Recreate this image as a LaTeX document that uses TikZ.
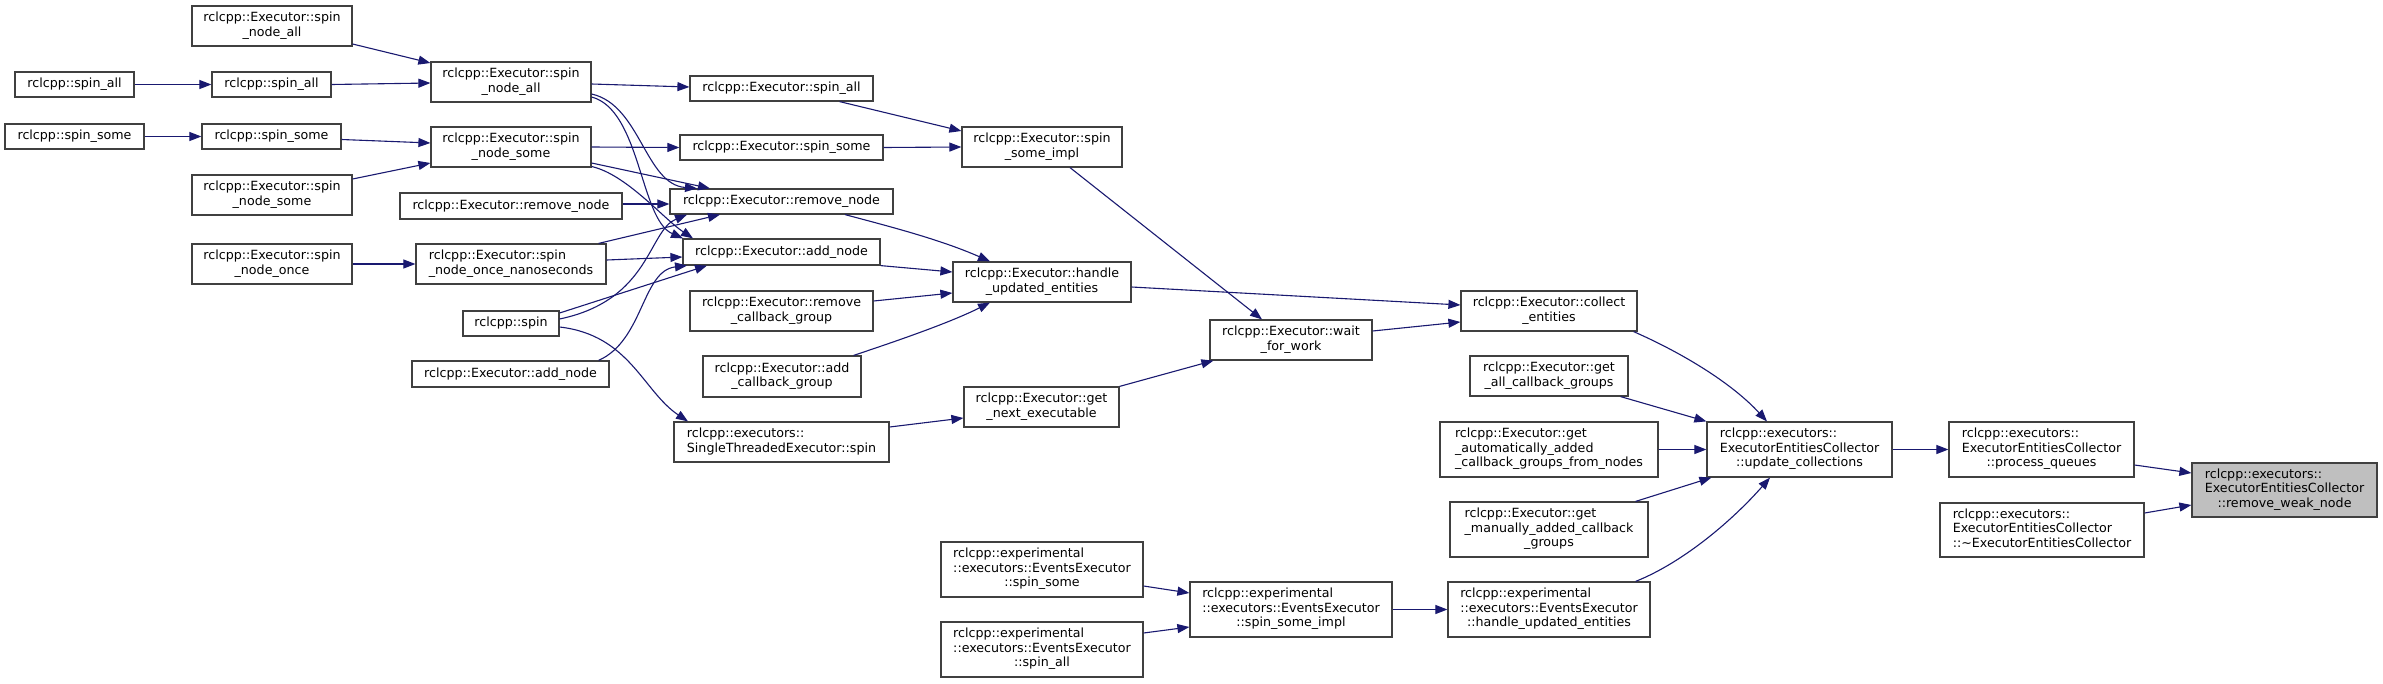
\documentclass[tikz,border=0pt]{standalone}
\usepackage{fontspec}
\setmainfont{DejaVu Sans}
\usetikzlibrary{arrows.meta,calc}
\definecolor{edgeblue}{HTML}{191970}
\definecolor{boxline}{HTML}{404040}
\definecolor{hlgray}{HTML}{BFBFBF}
\newcommand{\twoline}[2]{\begin{tabular}{@{}l@{}}#1\\\multicolumn{1}{@{}c@{}}{#2}\end{tabular}}
\newcommand{\threeline}[3]{\begin{tabular}{@{}l@{}}#1\\#2\\\multicolumn{1}{@{}c@{}}{#3}\end{tabular}}
\tikzset{
  nbox/.style={draw=boxline, line width=1.2pt, fill=white, inner sep=0pt, text=black,
    font=\fontsize{12.65}{14.4}\selectfont},
  curbox/.style={nbox, fill=hlgray},
  conn/.style={draw=edgeblue, line width=1.1pt, -{Triangle[length=12pt,width=9pt]}},
}
\begin{document}
\begin{tikzpicture}[x=1pt,y=-1pt]
\fill[white] (0,0) rectangle (2383,683);
\useasboundingbox (0,0) rectangle (2383,683);
% column 0
\node[nbox, minimum width=119, minimum height=25] (sa0) at (74.5,84.5) {rclcpp::spin\_all};
\node[nbox, minimum width=139, minimum height=25] (ss0) at (74.5,136.5) {rclcpp::spin\_some};
% column 1
\node[nbox, minimum width=160, minimum height=40] (sna1) at (272,26) {\twoline{rclcpp::Executor::spin}{\_node\_all}};
\node[nbox, minimum width=119, minimum height=25] (sa1) at (271.5,84.5) {rclcpp::spin\_all};
\node[nbox, minimum width=139, minimum height=25] (ss1) at (271.5,136.5) {rclcpp::spin\_some};
\node[nbox, minimum width=160, minimum height=40] (sns1) at (272,195) {\twoline{rclcpp::Executor::spin}{\_node\_some}};
\node[nbox, minimum width=160, minimum height=40] (sno) at (272,264) {\twoline{rclcpp::Executor::spin}{\_node\_once}};
% column 2
\node[nbox, minimum width=160, minimum height=40] (sna2) at (511,82) {\twoline{rclcpp::Executor::spin}{\_node\_all}};
\node[nbox, minimum width=160, minimum height=40] (sns2) at (511,147) {\twoline{rclcpp::Executor::spin}{\_node\_some}};
\node[nbox, minimum width=222, minimum height=26] (rn2) at (511,206) {rclcpp::Executor::remove\_node};
\node[nbox, minimum width=190, minimum height=40] (snon) at (511,264) {\twoline{rclcpp::Executor::spin}{\_node\_once\_nanoseconds}};
\node[nbox, minimum width=96, minimum height=25] (spin) at (511,323.5) {rclcpp::spin};
\node[nbox, minimum width=197, minimum height=26] (an2) at (510.5,374) {rclcpp::Executor::add\_node};
% column 3
\node[nbox, minimum width=183, minimum height=25] (esa) at (781.5,88.5) {rclcpp::Executor::spin\_all};
\node[nbox, minimum width=203, minimum height=25] (ess) at (781.5,147.5) {rclcpp::Executor::spin\_some};
\node[nbox, minimum width=223, minimum height=25] (rn3) at (781.5,201.5) {rclcpp::Executor::remove\_node};
\node[nbox, minimum width=197, minimum height=26] (an3) at (781.5,252) {rclcpp::Executor::add\_node};
\node[nbox, minimum width=183, minimum height=40] (rcg) at (781.5,311) {\twoline{rclcpp::Executor::remove}{\_callback\_group}};
\node[nbox, minimum width=158, minimum height=41] (acg) at (782,376.5) {\twoline{rclcpp::Executor::add}{\_callback\_group}};
\node[nbox, minimum width=215, minimum height=40] (ste) at (781.5,442) {\twoline{rclcpp::executors::}{SingleThreadedExecutor::spin}};
% column 4
\node[nbox, minimum width=160, minimum height=40] (ssi) at (1042,147) {\twoline{rclcpp::Executor::spin}{\_some\_impl}};
\node[nbox, minimum width=178, minimum height=40] (hue) at (1042,282) {\twoline{rclcpp::Executor::handle}{\_updated\_entities}};
\node[nbox, minimum width=155, minimum height=40] (gne) at (1041.5,407) {\twoline{rclcpp::Executor::get}{\_next\_executable}};
\node[nbox, minimum width=202, minimum height=55] (ees) at (1042,569.5) {\threeline{rclcpp::experimental}{::executors::EventsExecutor}{::spin\_some}};
\node[nbox, minimum width=202, minimum height=55] (eea) at (1042,649.5) {\threeline{rclcpp::experimental}{::executors::EventsExecutor}{::spin\_all}};
% column 5
\node[nbox, minimum width=162, minimum height=40] (wfw) at (1291,340) {\twoline{rclcpp::Executor::wait}{\_for\_work}};
\node[nbox, minimum width=202, minimum height=55] (essi) at (1291,609.5) {\threeline{rclcpp::experimental}{::executors::EventsExecutor}{::spin\_some\_impl}};
% column 6
\node[nbox, minimum width=176, minimum height=40] (ce) at (1549,311) {\twoline{rclcpp::Executor::collect}{\_entities}};
\node[nbox, minimum width=158, minimum height=40] (gacg) at (1549,376) {\twoline{rclcpp::Executor::get}{\_all\_callback\_groups}};
\node[nbox, minimum width=218, minimum height=55] (gaut) at (1549,449.5) {\threeline{rclcpp::Executor::get}{\_automatically\_added}{\_callback\_groups\_from\_nodes}};
\node[nbox, minimum width=198, minimum height=55] (gman) at (1549,529.5) {\threeline{rclcpp::Executor::get}{\_manually\_added\_callback}{\_groups}};
\node[nbox, minimum width=202, minimum height=55] (ehue) at (1549,609.5) {\threeline{rclcpp::experimental}{::executors::EventsExecutor}{::handle\_updated\_entities}};
% column 7-9
\node[nbox, minimum width=185, minimum height=55] (uc) at (1799.5,449.5) {\threeline{rclcpp::executors::}{ExecutorEntitiesCollector}{::update\_collections}};
\node[nbox, minimum width=185, minimum height=55] (pq) at (2041.5,449.5) {\threeline{rclcpp::executors::}{ExecutorEntitiesCollector}{::process\_queues}};
\node[nbox, minimum width=204, minimum height=54] (eec) at (2042,530) {\threeline{rclcpp::executors::}{ExecutorEntitiesCollector}{::\textasciitilde ExecutorEntitiesCollector}};
\node[curbox, minimum width=185, minimum height=54] (rwn) at (2284.5,490) {\threeline{rclcpp::executors::}{ExecutorEntitiesCollector}{::remove\_weak\_node}};
% edges
\draw[conn] (sa0.east) -- (sa1.west);
\draw[conn] (ss0.east) -- (ss1.west);
\draw[conn] ($(sna1.east)+(0,18)$) -- ($(sna2.west)+(0,-19)$);
\draw[conn] (sa1.east) -- ($(sna2.west)+(0,1)$);
\draw[conn] ($(ss1.east)+(0,3)$) -- ($(sns2.west)+(0,-4)$);
\draw[conn] ($(sns1.east)+(0,-16)$) -- ($(sns2.west)+(0,16)$);
\draw[conn] (sno.east) -- (snon.west);
\draw[conn] ($(sna2.east)+(0,2)$) -- ($(esa.west)+(0,-1.5)$);
\draw[conn] (sns2.east) -- (ess.west);
\draw[conn] ($(sna2.east)+(0,12)$) .. controls +(49,11) and +(-52,-4) .. ($(rn3.north)+(-84.5,0)$);
\draw[conn] ($(sna2.east)+(0,15)$) .. controls +(49,13) and +(-43,-19) .. ($(an3.north)+(-98.5,0)$);
\draw[conn] ($(sns2.east)+(0,16)$) -- ($(rn3.north)+(-71.5,0)$);
\draw[conn] ($(sns2.east)+(0,19.5)$) .. controls +(35,8) and +(-30,-20) .. ($(an3.north)+(-88.5,0)$);
\draw[conn] ($(rn2.east)+(0,-2)$) -- ($(rn3.west)+(0,2.5)$);
\draw[conn] ($(snon.east)+(0,-4)$) -- ($(an3.west)+(0,5)$);
\draw[conn] ($(snon.north east)+(-8,0)$) -- ($(rn3.south)+(-61.5,0)$);
\draw[conn] ($(spin.east)+(0,-4.5)$) .. controls +(91,-19) and +(-39,16) .. ($(rn3.south)+(-94.5,0)$);
\draw[conn] ($(spin.east)+(0,-10.5)$) -- ($(an3.south)+(-74.5,0)$);
\draw[conn] ($(an2.north east)+(-11,0)$) .. controls +(45,-20) and +(-45,5) .. ($(an3.south)+(-94.5,0)$);
\draw[conn] ($(spin.east)+(0,3.5)$) .. controls +(70,8) and +(-45,-30) .. ($(ste.north)+(-93.5,0)$);
\draw[conn] ($(esa.south east)+(-34,0)$) -- ($(ssi.west)+(0,-16)$);
\draw[conn] (ess.east) -- (ssi.west);
\draw[conn] ($(rn3.south)+(63.5,0)$) .. controls +(45,12) and +(-50,-22) .. ($(hue.north)+(-52,0)$);
\draw[conn] (an3.south east) -- ($(hue.west)+(0,-10)$);
\draw[conn] ($(rcg.east)+(0,-10)$) -- ($(hue.west)+(0,11)$);
\draw[conn] ($(acg.north east)+(-8,0)$) .. controls +(45,-15) and +(-40,20) .. ($(hue.south)+(-52,0)$);
\draw[conn] ($(ssi.south)+(28,0)$) -- ($(wfw.north)+(-29,0)$);
\draw[conn] ($(hue.east)+(0,5)$) -- ($(ce.west)+(0,-6)$);
\draw[conn] ($(wfw.east)+(0,-9)$) -- ($(ce.west)+(0,11)$);
\draw[conn] ($(ste.east)+(0,-15)$) -- ($(gne.west)+(0,11)$);
\draw[conn] (gne.north east) -- ($(wfw.south west)+(4,0)$);
\draw[conn] ($(ees.east)+(0,16.5)$) -- ($(essi.west)+(0,-16.5)$);
\draw[conn] ($(eea.east)+(0,-16.5)$) -- ($(essi.west)+(0,17.5)$);
\draw[conn] (essi.east) -- (ehue.west);
\draw[conn] ($(ce.south east)+(-4,0)$) .. controls +(50,22) and +(-35,-38) .. ($(uc.north)+(-32.5,0)$);
\draw[conn] ($(gacg.south east)+(-8,0)$) -- (uc.north west);
\draw[conn] (gaut.east) -- (uc.west);
\draw[conn] ($(gman.north east)+(-13,0)$) -- ($(uc.south west)+(5,0)$);
\draw[conn] ($(ehue.north east)+(-15,0)$) .. controls +(50,-20) and +(-35,40) .. ($(uc.south)+(-29.5,0)$);
\draw[conn] (uc.east) -- (pq.west);
\draw[conn] ($(pq.east)+(0,15.5)$) -- ($(rwn.west)+(0,-17)$);
\draw[conn] ($(eec.east)+(0,-17)$) -- ($(rwn.west)+(0,15)$);
\end{tikzpicture}
\end{document}
